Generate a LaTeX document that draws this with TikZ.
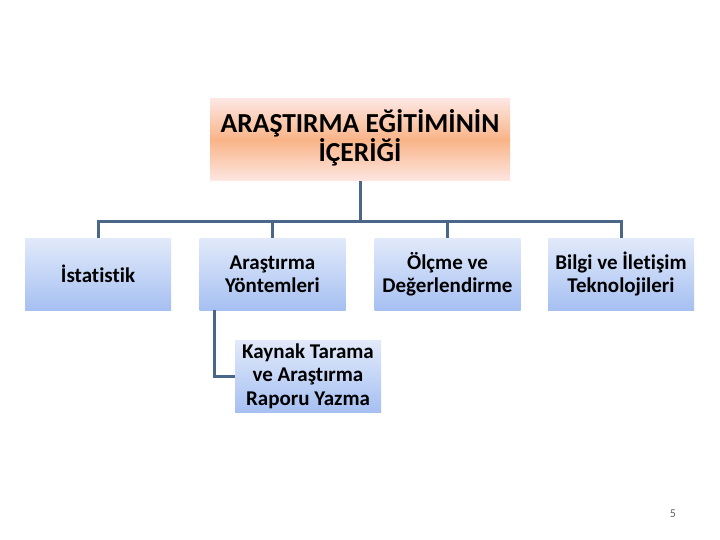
\documentclass[tikz,border=0pt]{standalone}
\usepackage{fontspec}
\setmainfont{Carlito}[Ligatures=NoCommon]
\begin{document}
\begin{tikzpicture}[x=1pt,y=-1pt,
  line/.style={draw=conn, line width=3pt},
  child/.style={minimum width=146pt, minimum height=72pt, inner sep=0pt, top color=bltop, bottom color=blbot, align=center, font=\bfseries\fontsize{21}{23.3}\selectfont, text=black},
  ]
\definecolor{conn}{HTML}{4A6688}
\definecolor{bltop}{HTML}{E2EAFA}
\definecolor{blbot}{HTML}{A6C0F2}
\definecolor{orpale}{HTML}{FDE6E2}
\definecolor{ormid}{HTML}{F9B487}
\useasboundingbox (0,0) rectangle (720,540);
\fill[white] (0,0) rectangle (720,540);
% top box
\shade[top color=orpale, bottom color=ormid] (210,99) rectangle (510,140);
\shade[top color=ormid, bottom color=orpale] (210,139.5) rectangle (510,181);
\node[inner sep=0pt, minimum width=300pt, minimum height=82pt, align=center, font=\bfseries\fontsize{27.5}{28.5}\selectfont] (top) at (360,138) {ARAŞTIRMA EĞİTİMİNİN\\İÇERİĞİ};
\coordinate (topb) at (360,181);
% children
\node[child] (c1) at (98,274) {İstatistik};
\node[child] (c2) at (272.5,274) {Araştırma\\Yöntemleri};
\node[child] (c3) at (447.5,274) {Ölçme ve\\Değerlendirme};
\node[child] (c4) at (621,274) {Bilgi ve İletişim\\Teknolojileri};
\node[child] (c5) at (308,376) {Kaynak Tarama\\ve Araştırma\\Raporu Yazma};
% connectors
\coordinate (bus) at (360,222);
\draw[line] (topb) -- (bus);
\draw[line] (c1.north) |- (bus);
\draw[line] (c4.north) |- (bus);
\draw[line] (c2.north) -- (c2.north |- bus);
\draw[line] (c3.north) -- (c3.north |- bus);
\coordinate (c2b) at ([xshift=-58pt]c2.south);
\draw[line] (c2b) |- (c5.west);
% page number
\node[text=gray!80!black, font=\fontsize{12}{14}\selectfont] (pn) at (673,514) {5};
\end{tikzpicture}
\end{document}
